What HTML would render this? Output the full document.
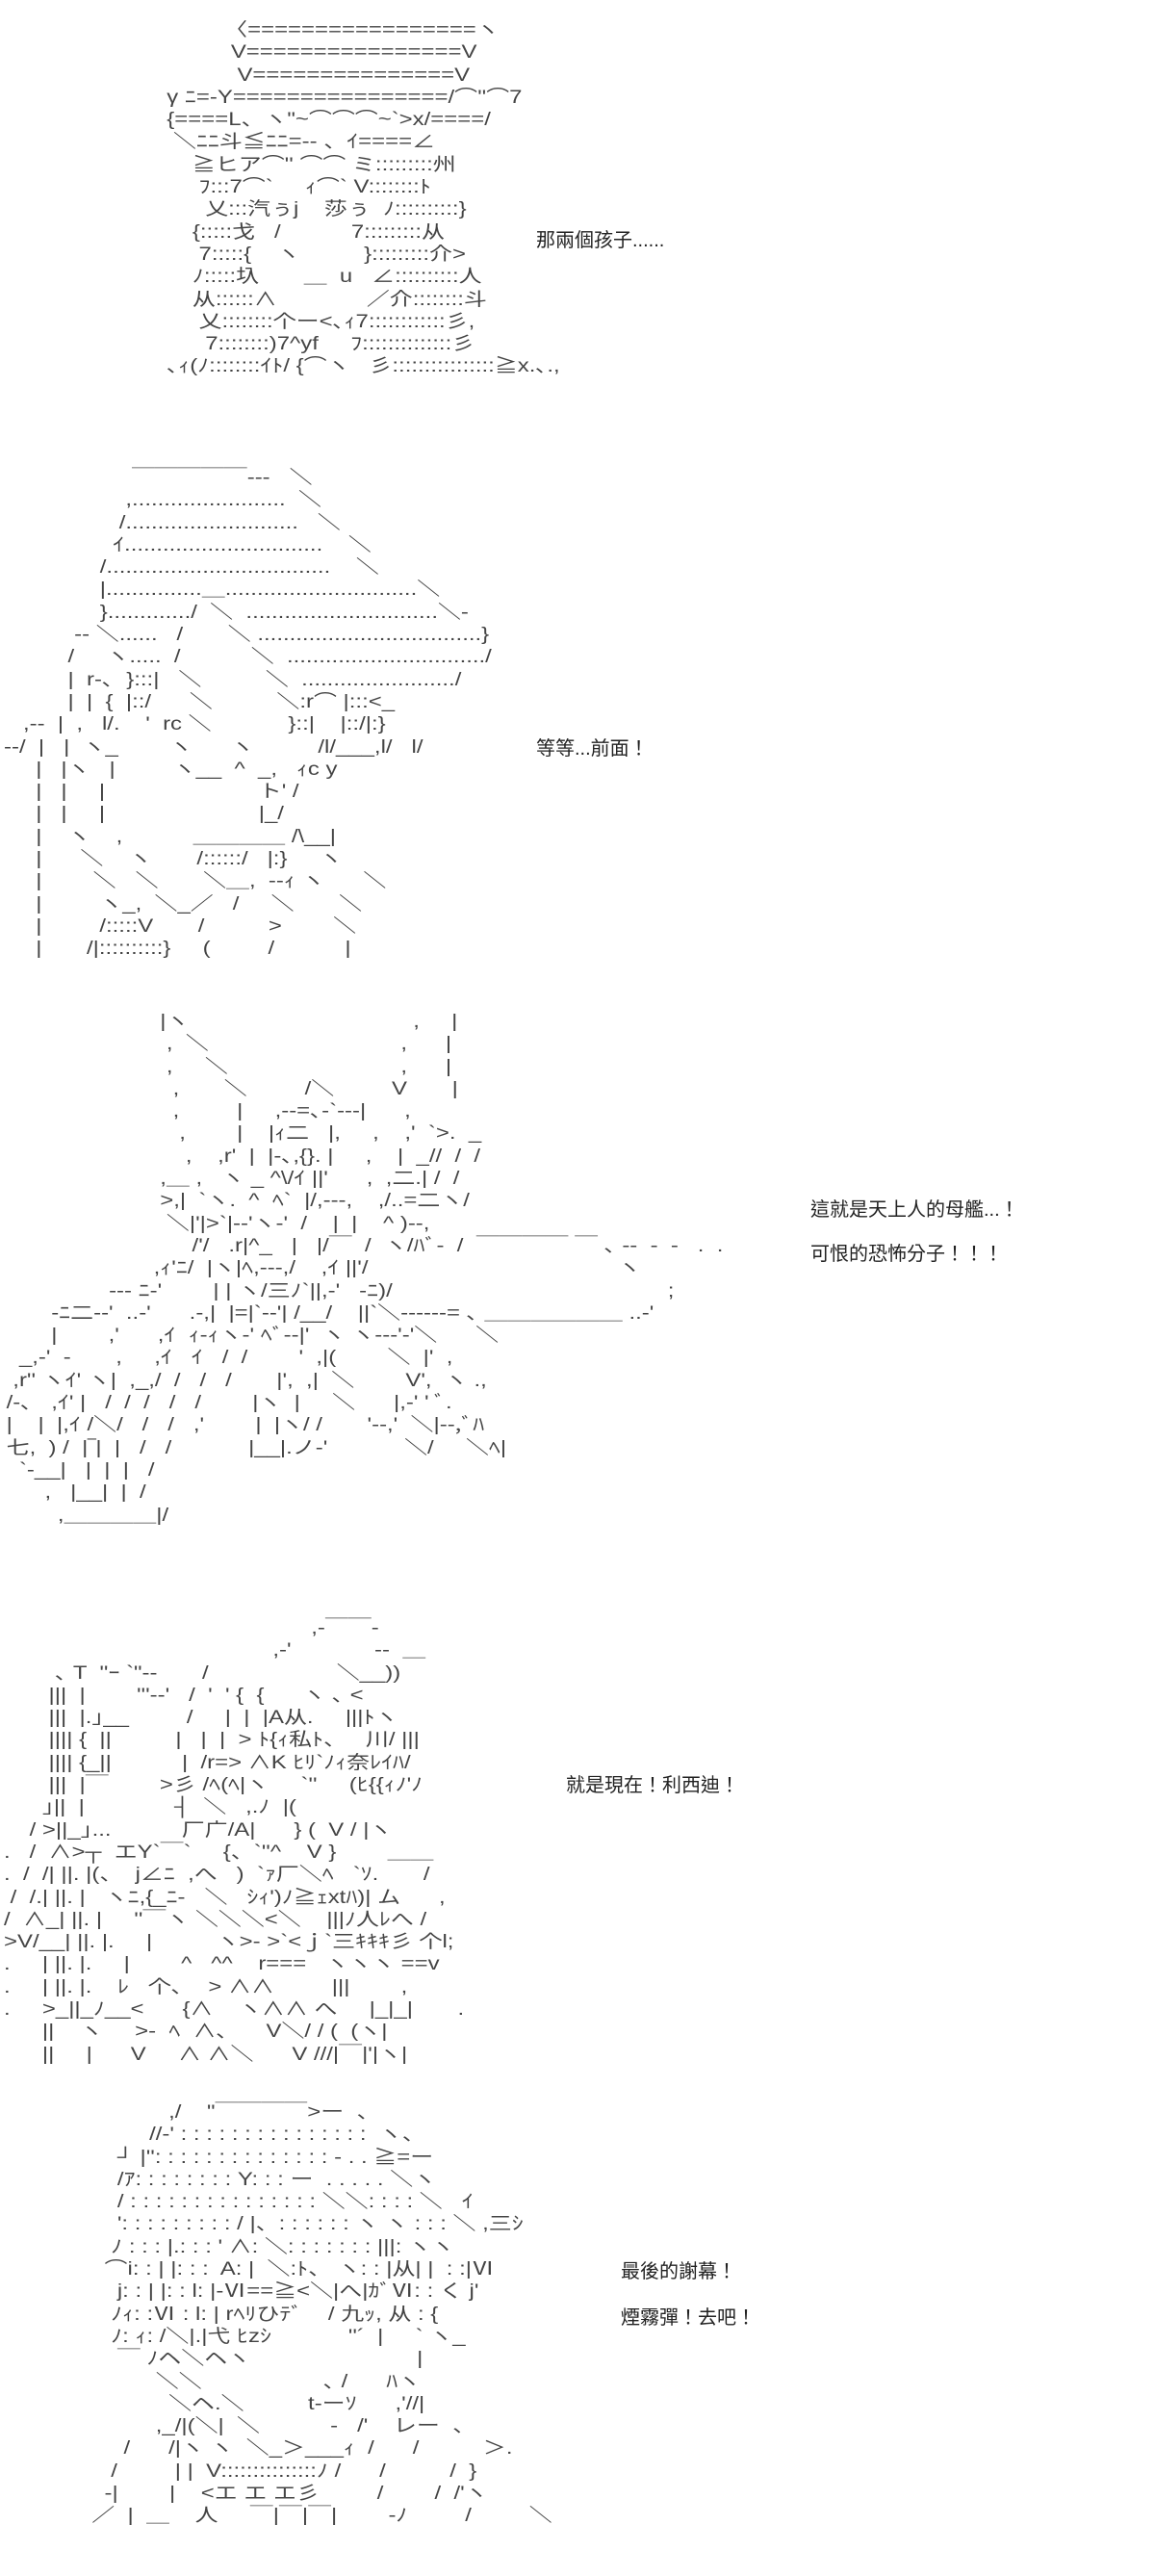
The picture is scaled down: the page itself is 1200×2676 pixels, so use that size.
<!DOCTYPE html>
<html><head><meta charset="utf-8">
<style>
html,body{margin:0;padding:0;background:#fff;}
body{width:1200px;height:2676px;position:relative;overflow:hidden;}
pre{position:absolute;margin:0;font-family:"Liberation Sans","Noto Sans CJK JP",sans-serif;font-size:19px;line-height:23.3px;color:#444;white-space:pre;transform:scaleX(1.26);transform-origin:0 0;}
.t{position:absolute;font-family:"Liberation Sans","Noto Sans CJK TC",sans-serif;font-size:20px;color:#222;white-space:pre;line-height:24px;}
</style></head><body>

<pre style="left:160px;top:20px;">           〈=================ヽ
            V================V
             V===============V
  γ ﾆ=-Y================/⌒''⌒7
  {====L、ヽ"~⌒⌒⌒~`>x/====/
   ＼ﾆﾆ斗≦ﾆﾆ=-- 、ｲ====∠
      ≧ヒア⌒'' ⌒⌒ ミ:::::::::州
       ﾌ:::7⌒`     ｨ⌒` V::::::::ﾄ
        乂:::汽ぅj    莎ぅ  ﾉ::::::::::}
      {:::::戈   /           7:::::::::从
       7:::::{    ヽ          }:::::::::介>
      ﾉ:::::圦       ＿  u   ∠::::::::::人
      从::::::∧              ／介::::::::斗
       乂::::::::个ー<､ｨ7::::::::::::彡,
        7::::::::)7^yf     ﾌ::::::::::::::彡
  ､ｨ(ﾉ::::::::ｲﾄ/ {⌒ヽ   彡::::::::::::::::≧x.､.,</pre>
<div class="t" style="left:557px;top:238px;">那兩個孩子......</div>

<pre style="left:4px;top:485px;">                    ￣￣￣￣￣---   ＼
                   ,........................  ＼
                  /...........................   ＼
                 ｲ...............................    ＼
               /...................................    ＼
               |...............＿..............................＼
               }............./  ＼  ..............................＼-
           -- ＼......   /       ＼ ...................................}
          /     ヽ.....  /           ＼  .............................../
          |  r‐､  }:::|   ＼          ＼  ......................../
          |  |  {  |::/      ＼          ＼:r⌒ |:::<_
   ,--  |  ,   l/.    '  rc ＼            }::|    |::/|:}
--/  |   |  ヽ_        ヽ      ヽ          /l/___,l/   l/
     |   |ヽ   |         ヽ__  ^  _,   ｨc y
     |   |     |                        ト' /
     |   |     |                        |_/
     |    ヽ    ,           ＿＿＿＿ /\__|
     |      ＼    ヽ       /::::::/   |:}     ヽ
     |        ＼   ＼       ＼＿,  --ｨ ヽ      ＼
     |         ヽ_,  ＼_／   /     ＼       ＼
     |         /:::::V       /          >        ＼
     |       /|::::::::::}     (         /           |</pre>
<div class="t" style="left:557px;top:766px;">等等...前面！</div>

<pre style="left:0px;top:1050px;">                         |ヽ                                   ,     |
                          ,  ＼                              ,      |
                          ,     ＼                           ,      |
                           ,       ＼         /＼         V       |
                           ,         |     ,-‐=､-`---|      ,
                            ,        |    |ｨ二   |,     ,    ,'  `>.  _
                             ,    ,r'  |  |-､,{}. |     ,    |  _//  /  /
                         ,＿ ,   ヽ _ ^\/ｲ ||'      ,  ,二.| /  /
                         >,|  `ヽ.  ^  ﾍ`  |/,--‐,    ,/..=二ヽ/
                          ＼|'|>`|--'ヽ-'  /    |  |    ^ )--,
                              /'/   .r|^_   |   |/￣  /  ヽ/ﾊﾞ-  /  ￣￣￣￣ ￣ ､ --  -  -   .  .
                        ,ｨ'ﾆ/  |ヽ|ﾍ,---,/    ,ｲ ||'/                                       ヽ
                 --- ﾆ-'        | | ヽ/三ﾉ`||,-'   -ﾆ)/                                           ;
        -ﾆ二--'  ..-'      .-,|  |=|`--'| /__/    ||`＼------= ､ ＿＿＿＿＿＿ ..-'
        |        ,'      ,ｲ  ｨ-ｨヽ-' ﾍﾞ--|'  ヽ ヽ---'-'＼      ＼
   _,-'  -       ,     ,ｲ   ｲ   /  /        '  ,|(        ＼  |'  ,
  ,r'' ヽｲ' ヽ|  ,_,/  /   /   /       |',  ,|  ＼        V',  ヽ .,
 /‐､   ,ｲ' |   /  /  /   /   /        |ヽ  |     ＼      |,-' ' ﾞ.
 |    |  |,ｲ /＼/   /   /   ,'        |  |ヽ/ /       '--,'  ＼|--,ﾞﾊ
 七,  ) /  |‾|  |   /   /            |__|.ノ-'            ＼/     ＼ﾍ|
   `-__|   |  |  |   /
       ,   |__|  |  /
         ,＿＿＿＿|/</pre>
<div class="t" style="left:842px;top:1245px;">這就是天上人的母艦...！</div>
<div class="t" style="left:842px;top:1291px;">可恨的恐怖分子！！！</div>

<pre style="left:4px;top:1680px;">                                                ,‐￣￣‐
                                          ,-'             --  ＿
        ､ T  ''ｰ `"--       /                    ＼__))
       |||  |        '''--'   /  '  ' {  {      ヽ ､ <
       |||  |.｣__         /     |  |  |A从.     |||ﾄヽ
       |||| {  ||          |   |  |  > ﾄ{ｨ私ﾄ、   川/ |||
       |||| {_||           |  /r=> ∧K ﾋﾘ`ﾉｨ奈ﾚｲﾊ/
       |||  |￣        >彡 /ﾍ(ﾍ|ヽ     `''     (ﾋ{{ｨﾉ'ﾉ
      ｣||  |              </  >┤  ＼   ,.ﾉ  |(
    / >||_｣...           厂广/A|      } (  V / |ヽ
.   /  ∧>┬  エY`￣`</   >     {、`''^    V }        ＿＿
.  /  /| ||. |(、  j∠ﾆ  ,へ   )  `ｧ厂＼ﾍ   `ｿ.       /
 /  /.| ||. |   ヽﾆ,{_ﾆ-   ＼   ｼｨ')ﾉ≧ｪxtﾊ)| ム      ,
/  ∧_| ||. |     ''￣ヽ ＼＼＼<＼    |||ﾉ人ﾚへ /
>V/__| ||. |.     |          ヽ>- >`<ｊ`三ｷｷｷ彡 个l;
.     | ||. |.     |        ^   ^^    r===   ヽヽヽ ==v
.     | ||. |.    ﾚ   个､    > ∧∧         |||        ,
.     >_||_ﾉ__<      {∧    ヽ∧∧ へ     |_|_|       .
      ||    ヽ     >-  ﾍ  ∧､      V＼/ / (  (ヽ|
      ||     |      V     ∧ ∧＼      V ///|￣|'|ヽ|</pre>
<div class="t" style="left:588px;top:1843px;">就是現在！利西迪！</div>

<pre style="left:62px;top:2183px;">                 ,/    "￣￣￣￣>ー  、
              //‐' : : : : : : : : : : : : : : :  ヽ、
         ┘ |'': : : : : : : : : : : : : : - . . ≧=ー
         /ｱ: : : : : : : : Y: : : ー  . . . . . ＼ヽ
         / : : : : : : : : : : : : : : : ＼＼: : : : ＼   ｲ
         ': : : : : : : : : / |、: : : : : : ヽ ヽ : : : ＼ ,三ｼ
        ﾉ : : : |.: : : ' ∧: ＼: : : : : : : |||: ヽヽ
       ⌒i: : | |: : :  A: |  ＼:ﾄ、 ヽ: : |从| |  : :|Ⅵ
         j: : | |: : l: |-Ⅵ==≧<＼|へ|ｶﾞⅥ: : く j'
        ﾉｨ: :Ⅵ : l: | rﾍﾘひﾃﾞ    / 九ｯ, 从 : {
        ﾉ: ｨ: /＼|.|弋 ﾋzｼ            ''´  |     ` ヽ_
         ￣ ﾉヘ＼ヘヽ                          |
               ＼＼                   ､ /      ﾊヽ
                 ＼ヘ.＼          t-ーｿ      ,'//|
               ,_/|(＼|  ＼           -   /'    レー  、
          /      /|ヽ ヽ  ＼_＞___ｨ  /      /          ＞.
        /         | |  V:::::::::::::::ﾉ /      /          /  }
       ‐|        |    <エ エ エ彡         /        /  /'ヽ
     ／  |  ＿    人     ￣|￣|￣|        ‐ﾉ         /         ＼</pre>
<div class="t" style="left:645px;top:2348px;">最後的謝幕！</div>
<div class="t" style="left:645px;top:2396px;">煙霧彈！去吧！</div>

</body></html>
